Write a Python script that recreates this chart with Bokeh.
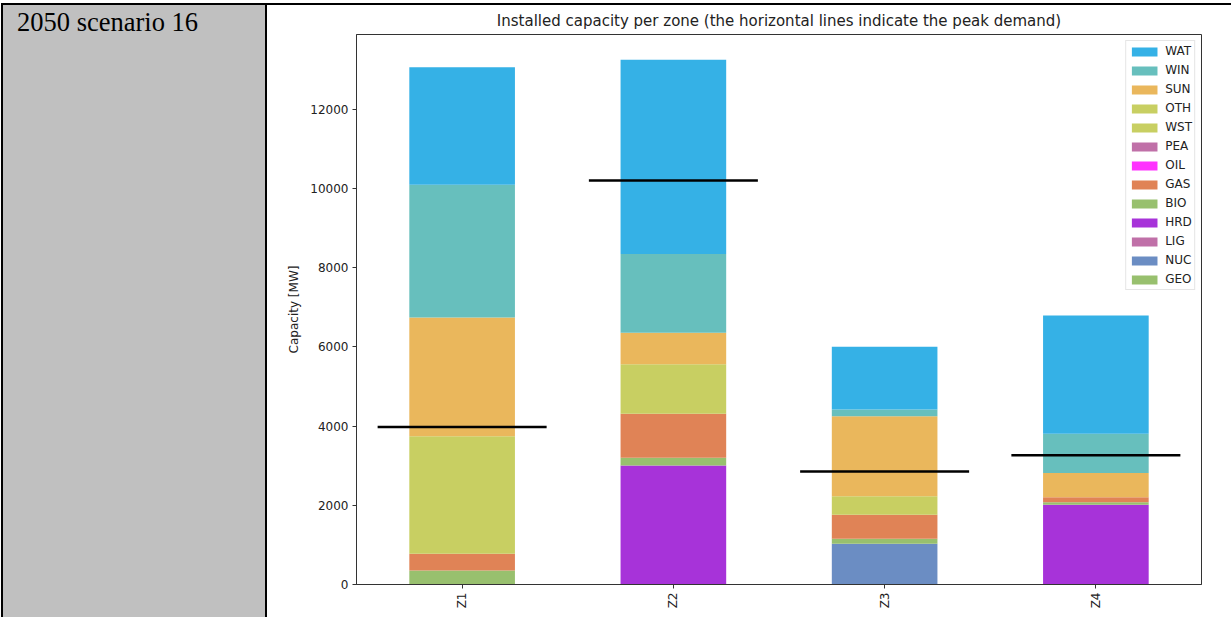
import math
from bokeh.plotting import figure
from bokeh.layouts import row
from bokeh.models import (FactorRange, Range1d, Legend, LegendItem, FixedTicker, ColumnDataSource, Div)
from bokeh.transform import dodge
from bokeh.embed import file_html
from bokeh.resources import INLINE

# ---------------- data ----------------
zones = ["Z1", "Z2", "Z3", "Z4"]
techs = ["GEO", "NUC", "LIG", "HRD", "BIO", "GAS", "OIL", "PEA", "WST", "OTH", "SUN", "WIN", "WAT"]
tech_colors = ["#98c06e", "#6b8dc3", "#c070a8", "#a733d9", "#98c06e", "#e08356", "#ff33ff",
               "#c070a8", "#c8cf62", "#c8cf62", "#eab75c", "#67bfbd", "#35b1e6"]

GEO = [0, 0, 0, 0]
NUC = [0, 0, 1028, 0]
LIG = [0, 0, 0, 0]
HRD = [0, 3005, 0, 2013]
BIO = [355, 195, 126, 67]
GAS = [420, 1110, 606, 126]
OIL = [0, 0, 0, 0]
PEA = [0, 0, 0, 0]
WST = [2970, 1255, 471, 0]
OTH = [0, 0, 0, 0]
SUN = [2998, 793, 2021, 607]
WIN = [3352, 1986, 169, 993]
WAT = [2971, 4911, 1584, 2990]
peak_demand = [3980, 10205, 2855, 3267]

title_text = "Installed capacity per zone (the horizontal lines indicate the peak demand)"
side_text = "2050 scenario 16"
y_label = "Capacity [MW]"
y_ticks = [0, 2000, 4000, 6000, 8000, 10000, 12000]

# ---------------- layout constants (page pixels) ----------------
W, H = 1231, 617
LEFT_W = 268                          # grey side cell column width
FL, FR, FT, FB = 356, 1201, 34, 584   # plot frame edges

# ---------- grey side cell text ----------
side = Div(text=('<div style="margin:0;padding:0;position:relative;left:17px;top:9px;'
                 'font-family:\'Liberation Serif\',serif;font-size:26.5px;line-height:26px;'
                 'color:black;white-space:nowrap;">' + side_text + '</div>'),
           width=LEFT_W, height=H, margin=(0, 0, 0, 0))

# ---------- main chart ----------
src = ColumnDataSource(dict(zone=zones, GEO=GEO, NUC=NUC, LIG=LIG, HRD=HRD, BIO=BIO, GAS=GAS,
                            OIL=OIL, PEA=PEA, WST=WST, OTH=OTH, SUN=SUN, WIN=WIN, WAT=WAT,
                            peak=peak_demand))

p = figure(width=W - LEFT_W, height=H, x_range=FactorRange(*zones), y_range=Range1d(0, 13890),
           output_backend="svg", toolbar_location=None,
           min_border_left=FL - LEFT_W, min_border_right=W - FR,
           min_border_top=FT, min_border_bottom=H - FB)
p.margin = (0, 0, 0, 0)
p.background_fill_color = "white"
p.border_fill_alpha = 0
p.outline_line_color = "#333333"
p.outline_line_width = 1
p.xgrid.visible = False
p.ygrid.visible = False

p.title.text = title_text
p.title.align = "center"
p.title.text_font = "DejaVu Sans"
p.title.text_font_size = "15px"
p.title.text_font_style = "normal"
p.title.text_color = "#222222"
p.title.standoff = 9

rs = p.vbar_stack(techs, x="zone", width=0.5, source=src, fill_color=tech_colors,
                  line_color=None)

p.segment(x0=dodge("zone", -0.4, range=p.x_range), x1=dodge("zone", 0.4, range=p.x_range),
          y0="peak", y1="peak", source=src, line_color="black", line_width=2.5)

for ax in (p.xaxis[0], p.yaxis[0]):
    ax.axis_line_color = "#333333"
    ax.major_tick_line_color = "#333333"
    ax.major_tick_out = 4
    ax.major_tick_in = 0
    ax.minor_tick_line_color = None
    ax.major_label_text_font = "DejaVu Sans"
    ax.major_label_text_font_size = "12px"
    ax.major_label_text_color = "#222222"
p.yaxis.ticker = FixedTicker(ticks=y_ticks)
p.yaxis.major_label_standoff = 4
p.yaxis.axis_label = y_label
p.yaxis.axis_label_text_font = "DejaVu Sans"
p.yaxis.axis_label_text_font_size = "12px"
p.yaxis.axis_label_text_font_style = "normal"
p.yaxis.axis_label_text_color = "#222222"
p.yaxis.axis_label_standoff = 6
p.xaxis.major_label_orientation = math.pi / 2
p.xaxis.major_label_standoff = 4

items = [LegendItem(label=t, renderers=[r]) for t, r in zip(techs, rs)][::-1]
legend = Legend(items=items, location="top_right", margin=6, padding=2, spacing=3,
                glyph_width=32, glyph_height=11, label_height=16, label_standoff=5,
                label_text_font="DejaVu Sans", label_text_font_size="12px",
                label_text_color="#222222", border_line_color="#cccccc",
                background_fill_alpha=0.9)
p.add_layout(legend)

# page: table borders and grey cell drawn as CSS backgrounds of the root
layout = row(side, p, spacing=0)
layout.margin = (0, 0, 0, 0)
layout.styles = {
    "position": "absolute", "left": "0px", "top": "0px",
    "background-color": "white",
    "background-image": ", ".join(["linear-gradient(#000, #000)"] * 3 + ["linear-gradient(#c0c0c0, #c0c0c0)"]),
    "background-position": "1px 3px, 1px 3px, 265px 3px, 3px 5px",
    "background-size": f"{W}px 2px, 2px {H}px, 2px {H}px, 262px {H}px",
    "background-repeat": "no-repeat",
}

open("out.html", "w").write(file_html(layout, INLINE))
